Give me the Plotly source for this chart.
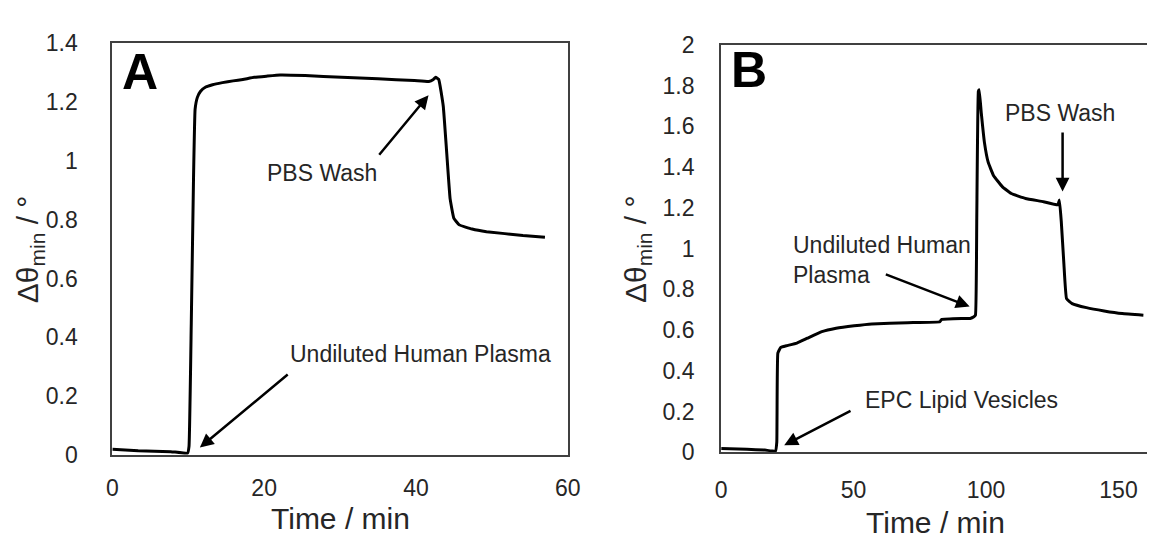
import plotly.graph_objects as go

# ---- Panel A data (Time / min, delta theta_min / deg) ----
time_a = [0, 3.4, 7.7, 9.9, 10.1, 10.4, 10.7, 10.9, 11.2, 11.6, 12.3, 13.2, 14.5, 15.9, 17.2, 18.7,
          20.3, 22.1, 25.4, 30.2, 35.0, 39.8, 41.7, 42.3, 42.6, 43.0, 43.6, 44.05, 44.5, 45.0, 45.7,
          47.4, 49.3, 54.1, 57.0]
theta_a = [0.020, 0.015, 0.012, 0.007, 0.03, 0.45, 0.95, 1.174, 1.215, 1.235, 1.250, 1.258, 1.265, 1.271, 1.276, 1.283,
           1.287, 1.291, 1.289, 1.283, 1.278, 1.272, 1.269, 1.276, 1.283, 1.276, 1.185, 1.028, 0.871, 0.804, 0.782,
           0.768, 0.759, 0.746, 0.740]

# ---- Panel B data ----
time_b = [0, 9.7, 16.5, 20.5, 21.0, 21.4, 22.5, 24.6, 28.6, 32.6, 38.0, 43.4, 50.2, 56.9, 70.4, 82.6,
          83.2, 90.7, 94.0, 95.4, 96.0, 96.5, 97.1, 97.4, 98.2, 99.4, 100.8, 102.8, 106.2, 109.5,
          114.9, 121.7, 127.1, 127.7, 128.4, 129.4, 130.4, 132.5, 137.9, 144.6, 151.4, 159.4]
theta_b = [0.019, 0.015, 0.011, 0.006, 0.05, 0.487, 0.515, 0.523, 0.536, 0.560, 0.592, 0.609, 0.621, 0.630, 0.636, 0.641,
           0.652, 0.657, 0.657, 0.665, 0.673, 1.149, 1.771, 1.779, 1.666, 1.520, 1.424, 1.359, 1.303, 1.270,
           1.246, 1.230, 1.214, 1.238, 1.133, 0.923, 0.754, 0.730, 0.710, 0.694, 0.681, 0.673]

ticks_a_x = [0, 20, 40, 60]
ticks_a_y = [0, 0.2, 0.4, 0.6, 0.8, 1, 1.2, 1.4]
ticks_b_x = [0, 50, 100, 150]
ticks_b_y = [0, 0.2, 0.4, 0.6, 0.8, 1, 1.2, 1.4, 1.6, 1.8, 2]

W, H = 1155, 543
FONT = "Liberation Sans, Arial, sans-serif"
TXT = "#262626"
AX = "#404040"

fig = go.Figure()
fig.add_trace(go.Scatter(x=time_a, y=theta_a, mode="lines", line=dict(color="black", width=3, shape="spline", smoothing=0.3),
                         xaxis="x", yaxis="y", showlegend=False))
fig.add_trace(go.Scatter(x=time_b, y=theta_b, mode="lines", line=dict(color="black", width=3, shape="spline", smoothing=0.3),
                         xaxis="x2", yaxis="y2", showlegend=False))

def xax(dom, rng, tv, anchor, standoff):
    return dict(domain=dom, range=rng, tickvals=tv, ticktext=[str(v) for v in tv], anchor=anchor,
                showgrid=False, zeroline=False, showline=True, linecolor=AX, linewidth=2, mirror=True,
                ticks="", ticklabelstandoff=standoff, tickfont=dict(family=FONT, size=23, color=TXT))

def yax(dom, rng, tv, anchor, standoff, mirror):
    return dict(domain=dom, range=rng, tickvals=tv, ticktext=[("%g" % v) for v in tv], anchor=anchor,
                showgrid=False, zeroline=False, showline=True, linecolor=AX, linewidth=2, mirror=mirror,
                ticks="", ticklabelstandoff=standoff, tickfont=dict(family=FONT, size=23, color=TXT))

fig.update_layout(
    width=W, height=H, margin=dict(l=0, r=0, t=0, b=0),
    paper_bgcolor="white", plot_bgcolor="white",
    xaxis=xax([100 / W, 563 / W], [0, 60], ticks_a_x, "y", 11),
    yaxis=yax([1 - 456 / H, 1 - 23 / H], [0, 1.4], ticks_a_y, "x", 28, True),
    xaxis2=xax([719 / W, 1.0], [0, 161.9], ticks_b_x, "y2", 16),
    yaxis2=yax([1 - 453 / H, 1 - 25 / H], [0, 2], ticks_b_y, "x2", 20, False),
)

ann = []
def label(text, x, y, xr, yr, size=23, bold=False, xanchor="center", align="center"):
    ann.append(dict(text=("<b>%s</b>" % text) if bold else text, x=x, y=y, xref=xr, yref=yr,
                    showarrow=False, xanchor=xanchor, yanchor="middle", align=align,
                    font=dict(family=FONT, size=size, color="black" if bold else TXT)))

def arrow(hx, hy, tx, ty, xr, yr):
    ann.append(dict(text="", x=hx, y=hy, ax=tx, ay=ty, xref=xr, yref=yr, axref=xr, ayref=yr,
                    showarrow=True, arrowhead=2, arrowsize=1.1, arrowwidth=2.5, arrowcolor="black", standoff=0))

# Panel A
label("A", 3.63, 1.30, "x", "y", size=50, bold=True)
label("PBS Wash", 27.6, 0.957, "x", "y")
arrow(41.66, 1.222, 35.0, 1.015, "x", "y")
label("Undiluted Human Plasma", 40.6, 0.343, "x", "y")
arrow(11.53, 0.026, 23.3, 0.278, "x", "y")

# Panel B
label("B", 10.4, 1.874, "x2", "y2", size=50, bold=True)
label("PBS Wash", 128.1, 1.666, "x2", "y2")
arrow(128.9, 1.280, 128.9, 1.577, "x2", "y2")
label("Undiluted Human<br>Plasma", 26.2, 0.942, "x2", "y2", xanchor="left", align="left")
arrow(93.8, 0.715, 61.6, 0.876, "x2", "y2")
label("EPC Lipid Vesicles", 90.6, 0.257, "x2", "y2")
arrow(23.8, 0.035, 49.4, 0.207, "x2", "y2")

# Axis titles
ytitle = "Δθ<sub>min</sub> / °"
for (x, y) in [(16, 240), (634, 240)]:
    ann.append(dict(text=ytitle, x=x / W, y=1 - y / H, xref="paper", yref="paper", showarrow=False,
                    textangle=-90, xanchor="center", yanchor="middle",
                    font=dict(family=FONT, size=30, color=TXT)))
for (x, y) in [(332, 523), (937, 527)]:
    ann.append(dict(text="Time / min", x=x / W, y=1 - y / H, xref="paper", yref="paper", showarrow=False,
                    xanchor="center", yanchor="middle", font=dict(family=FONT, size=30, color=TXT)))

fig.update_layout(annotations=ann)
fig.write_html("out.html")
